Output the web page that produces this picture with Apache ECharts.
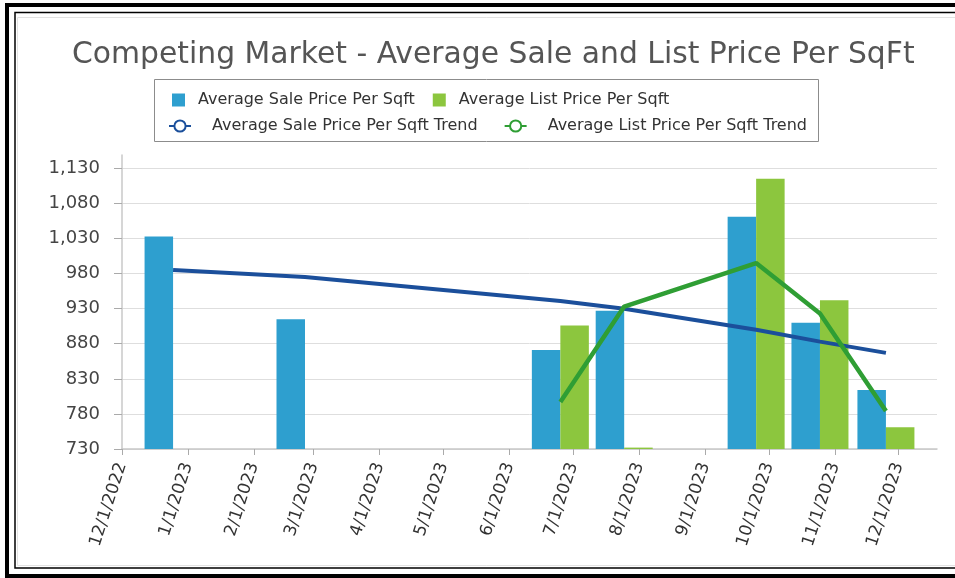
<!DOCTYPE html>
<html>
<head>
<meta charset="utf-8">
<script src="https://cdn.jsdelivr.net/npm/echarts@6/dist/echarts.min.js"></script>
<style>
  html, body { margin: 0; padding: 0; background: #fff; }
  #chart { width: 955px; height: 578px; }
</style>
</head>
<body>
<div id="chart"></div>
<script>
// months the values are plotted at
var dates = ['2022-12-25', '2023-02-25', '2023-06-25', '2023-07-25', '2023-09-25', '2023-10-25', '2023-11-25'];
var saleAvg = [1033, 915, 871, 927, 1061, 910, 814];
var listAvg = [null, null, 906, 732, 1115, 942, 761];
var saleTrend = [985, 975, 941, 930, 900, 883, 867];
var listTrend = [null, null, 797, 933, 995, 923, 784];

var yMin = 730, yMax = 1149, yStep = 50;
var xMin = '2022-12-01', xMax = '2023-12-19';

function ts(d) {
  return echarts.time.parse(d).getTime();
}

function pairs(vals) {
  return dates.map(function (d, i) { return [ts(d), vals[i]]; });
}

function commas(v) {
  return String(v).replace(/\B(?=(\d{3})+(?!\d))/g, ',');
}

var font = 'DejaVu Sans';
var chart = echarts.init(document.getElementById('chart'));

chart.setOption({
  backgroundColor: '#fff',
  animation: false,
  title: {
    text: 'Competing Market - Average Sale and List Price Per SqFt',
    left: 67,
    top: 35,
    textStyle: { fontFamily: font, fontSize: 29.8, fontWeight: 'normal', color: '#555' }
  },
  legend: [
    {
      left: 167, top: 87,
      itemWidth: 13, itemHeight: 13, itemGap: 18,
      icon: 'rect',
      data: ['Average Sale Price Per Sqft', 'Average List Price Per Sqft'],
      textStyle: { fontFamily: font, fontSize: 16, color: '#333', padding: [0, 0, 0, 8] }
    },
    {
      left: 163, top: 113,
      itemWidth: 22, itemHeight: 14, itemGap: 26,
      data: ['Average Sale Price Per Sqft Trend', 'Average List Price Per Sqft Trend'],
      textStyle: { fontFamily: font, fontSize: 16, color: '#333', padding: [0, 0, 0, 16] }
    }
  ],
  graphic: [
    { type: 'rect', shape: { x: 154.5, y: 79.5, width: 664, height: 62 },
      style: { fill: 'none', stroke: '#8c8c8c', lineWidth: 1 }, z: 0 },
    { type: 'rect', shape: { x: 17.5, y: 17.5, width: 950, height: 548 },
      style: { fill: 'none', stroke: '#e2e2e2', lineWidth: 1 } },
    { type: 'rect', shape: { x: 15, y: 12.5, width: 960, height: 555.5 },
      style: { fill: 'none', stroke: '#000', lineWidth: 1.5 } },
    { type: 'rect', shape: { x: 7, y: 5, width: 960, height: 571 },
      style: { fill: 'none', stroke: '#000', lineWidth: 4 } }
  ],
  grid: { left: 122, right: 18, top: 155, bottom: 129 },
  xAxis: [
    {
      // visible date axis: ticks and labels only
      type: 'time',
      min: xMin,
      max: xMax,
      splitNumber: 12,
      axisLine: { lineStyle: { color: '#c8c8c8', width: 1.5 } },
      axisTick: { show: true, length: 6, lineStyle: { color: '#aaa' } },
      splitLine: { show: false },
      axisLabel: {
        rotate: 72,
        margin: 14,
        showMinLabel: true,
        showMaxLabel: false,
        fontFamily: font,
        fontSize: 17,
        color: '#333',
        formatter: function (v) {
          var d = new Date(v);
          return (d.getMonth() + 1) + '/' + d.getDate() + '/' + d.getFullYear();
        }
      }
    },
    {
      // same span as plain numbers, so bars are not padded out
      type: 'value',
      min: ts(xMin),
      max: ts(xMax),
      show: false,
      splitLine: { show: false }
    }
  ],
  yAxis: {
    type: 'value',
    min: yMin,
    max: yMax,
    interval: yStep,
    axisLine: { show: true, lineStyle: { color: '#c8c8c8', width: 1.5 } },
    axisTick: { show: true, length: 8, lineStyle: { color: '#aaa' } },
    splitLine: { show: true, showMaxLine: false, lineStyle: { color: '#dedede' } },
    axisLabel: {
      showMaxLabel: false,
      margin: 22,
      fontFamily: font,
      fontSize: 18,
      color: '#444',
      formatter: commas
    }
  },
  series: [
    {
      name: 'Average Sale Price Per Sqft',
      type: 'bar',
      xAxisIndex: 1,
      barWidth: 28.5,
      barGap: '0%',
      itemStyle: { color: '#2e9fcf' },
      data: pairs(saleAvg)
    },
    {
      name: 'Average List Price Per Sqft',
      type: 'bar',
      xAxisIndex: 1,
      barWidth: 28.5,
      barGap: '0%',
      itemStyle: { color: '#8cc63e' },
      data: pairs(listAvg)
    },
    {
      name: 'Average Sale Price Per Sqft Trend',
      type: 'line',
      xAxisIndex: 1,
      symbol: 'emptyCircle',
      symbolSize: 12,
      showSymbol: false,
      lineStyle: { color: '#1b4f9b', width: 4 },
      itemStyle: { color: '#1b4f9b' },
      data: pairs(saleTrend),
      z: 5
    },
    {
      name: 'Average List Price Per Sqft Trend',
      type: 'line',
      xAxisIndex: 1,
      symbol: 'emptyCircle',
      symbolSize: 12,
      showSymbol: false,
      lineStyle: { color: '#2f9e34', width: 4.5 },
      itemStyle: { color: '#2f9e34' },
      data: pairs(listTrend),
      z: 6
    }
  ]
});
</script>
</body>
</html>
